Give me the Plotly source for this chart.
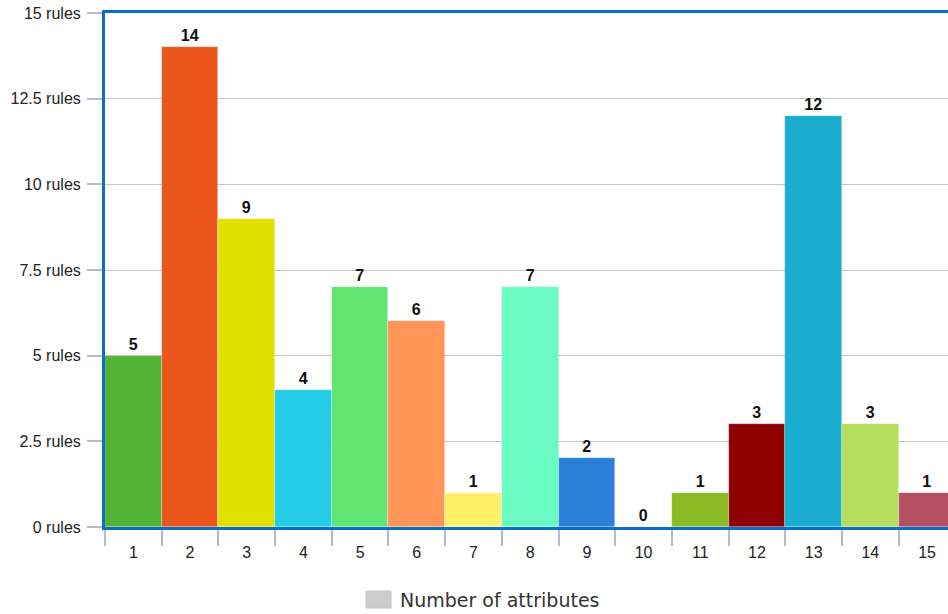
import plotly.graph_objects as go

# Rule counts per number of attributes
attributes = ["1", "2", "3", "4", "5", "6", "7", "8", "9", "10", "11", "12", "13", "14", "15"]
rules = [5, 14, 9, 4, 7, 6, 1, 7, 2, 0, 1, 3, 12, 3, 1]
bar_colors = ["#52b234", "#eb561d", "#dfe000", "#25cce5", "#63e573", "#ff9557",
              "#fff06a", "#6afbc2", "#2c7fd8", "#3366cc", "#8bbb24", "#8e0000",
              "#1badcd", "#b3df5c", "#b44f62"]
y_ticks = [0, 2.5, 5, 7.5, 10, 12.5, 15]
legend_name = "Number of attributes"

frame_blue = "#0a6fc2"
tick_gray = "#b4bccb"
grid_gray = "#c6c6c6"
base_font = "Liberation Sans, Arial, sans-serif"

fig = go.Figure()
fig.add_trace(go.Bar(
    x=attributes,
    y=rules,
    marker=dict(color=bar_colors, line=dict(color="rgba(255,255,255,0.45)", width=0.6)),
    text=[str(v) for v in rules],
    textposition="outside",
    textfont=dict(family=base_font, size=16, color="#111111"),
    texttemplate="<b>%{text}</b>",
    name=legend_name,
    showlegend=False,
    cliponaxis=False,
))

fig.update_layout(
    width=948,
    height=614,
    margin=dict(l=105, r=0, t=13, b=87),
    paper_bgcolor="white",
    plot_bgcolor="white",
    bargap=0,
    showlegend=False,
    font=dict(family=base_font, size=16, color="#222222"),
    xaxis=dict(
        type="category",
        range=[-0.5, 14.37],
        tickson="boundaries",
        ticks="outside",
        ticklen=16,
        tickwidth=2,
        tickcolor=tick_gray,
        ticklabelstandoff=9,
        showline=True,
        linecolor=frame_blue,
        linewidth=3,
        mirror=True,
        showgrid=False,
        tickfont=dict(size=16, color="#222222"),
        fixedrange=True,
    ),
    yaxis=dict(
        range=[0, 15],
        tickvals=y_ticks,
        ticktext=[f"{v:g} rules" for v in y_ticks],
        ticks="outside",
        ticklen=15,
        tickwidth=2,
        tickcolor=tick_gray,
        ticklabelstandoff=3,
        showline=True,
        linecolor=frame_blue,
        linewidth=3,
        showgrid=True,
        gridcolor=grid_gray,
        gridwidth=1,
        zeroline=False,
        tickfont=dict(size=16, color="#222222"),
        fixedrange=True,
    ),
)

# Legend: swatch and label below the plot
fig.add_shape(type="rect", xref="paper", yref="paper",
              x0=(366 - 105) / 843, x1=(391 - 105) / 843,
              y0=(614 - 87 - 608) / 514, y1=(614 - 87 - 591) / 514,
              fillcolor="#cccccc", line=dict(color="#c4c4c4", width=1))
fig.add_annotation(xref="paper", yref="paper",
                   x=(398 - 105) / 843, y=(614 - 87 - 600) / 514,
                   xanchor="left", yanchor="middle", showarrow=False,
                   text=legend_name,
                   font=dict(family="DejaVu Sans, sans-serif", size=19, color="#333333"))

fig.write_html("out.html")
